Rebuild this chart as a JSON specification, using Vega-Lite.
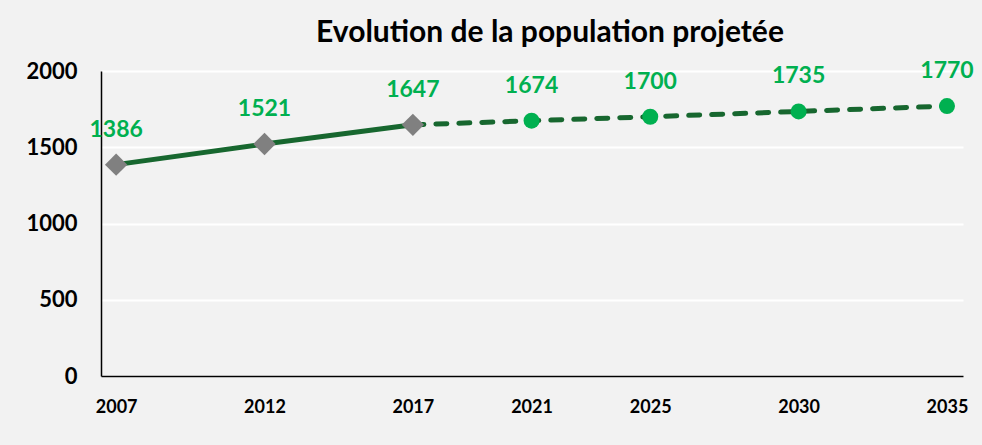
{
  "$schema": "https://vega.github.io/schema/vega-lite/v6.json",
  "autosize": {"type": "none"},
  "width": 862,
  "height": 305,
  "padding": {"left": 101, "top": 71, "right": 19, "bottom": 69},
  "background": "#f2f2f2",
  "title": {
    "text": "Evolution de la population projetée",
    "font": "Lato",
    "fontSize": 30,
    "fontWeight": "bold",
    "color": "#000000",
    "anchor": "middle",
    "dx": 18,
    "offset": 12
  },
  "config": {
    "view": {"stroke": null},
    "font": "Lato"
  },
  "data": {
    "values": [
      {"annee": 2007, "population": 1386, "statut": "observé"},
      {"annee": 2012, "population": 1521, "statut": "observé"},
      {"annee": 2017, "population": 1647, "statut": "observé"},
      {"annee": 2021, "population": 1674, "statut": "projeté"},
      {"annee": 2025, "population": 1700, "statut": "projeté"},
      {"annee": 2030, "population": 1735, "statut": "projeté"},
      {"annee": 2035, "population": 1770, "statut": "projeté"}
    ]
  },
  "encoding": {
    "x": {
      "field": "annee",
      "type": "quantitative",
      "scale": {"domain": [2006.49, 2035.54], "nice": false, "zero": false},
      "axis": {
        "title": null,
        "values": [2007, 2012, 2017, 2021, 2025, 2030, 2035],
        "format": "d",
        "grid": false,
        "ticks": false,
        "domainColor": "#000000",
        "domainWidth": 1.5,
        "labelFont": "Lato",
        "labelFontSize": 18,
        "labelFontWeight": "bold",
        "labelColor": "#000000",
        "labelPadding": 22,
        "labelFlush": false
      }
    },
    "y": {
      "field": "population",
      "type": "quantitative",
      "scale": {"domain": [0, 2000], "nice": false},
      "axis": {
        "title": null,
        "values": [0, 500, 1000, 1500, 2000],
        "format": "d",
        "grid": true,
        "gridColor": "#ffffff",
        "gridWidth": 2,
        "gridOpacity": 1,
        "ticks": false,
        "domainColor": "#000000",
        "domainWidth": 1.5,
        "labelFont": "Lato",
        "labelFontSize": 22,
        "labelFontWeight": "bold",
        "labelColor": "#000000",
        "labelPadding": 24
      }
    }
  },
  "layer": [
    {
      "transform": [{"filter": "datum.annee <= 2017"}],
      "mark": {"type": "line", "color": "#17672f", "strokeWidth": 5, "strokeCap": "round"}
    },
    {
      "transform": [{"filter": "datum.annee >= 2017"}],
      "mark": {"type": "line", "color": "#17672f", "strokeWidth": 5, "strokeCap": "round", "strokeDash": [11, 12]}
    },
    {
      "transform": [{"filter": "datum.annee <= 2017"}],
      "mark": {"type": "point", "shape": "diamond", "size": 500, "filled": true, "color": "#808080", "opacity": 1}
    },
    {
      "transform": [{"filter": "datum.annee > 2017"}],
      "mark": {"type": "point", "shape": "circle", "size": 256, "filled": true, "color": "#00b050", "opacity": 1}
    },
    {
      "mark": {"type": "text", "color": "#00b050", "font": "Lato", "fontSize": 23, "fontWeight": "bold", "dy": -35},
      "encoding": {"text": {"field": "population", "type": "quantitative", "format": "d"}}
    }
  ]
}
